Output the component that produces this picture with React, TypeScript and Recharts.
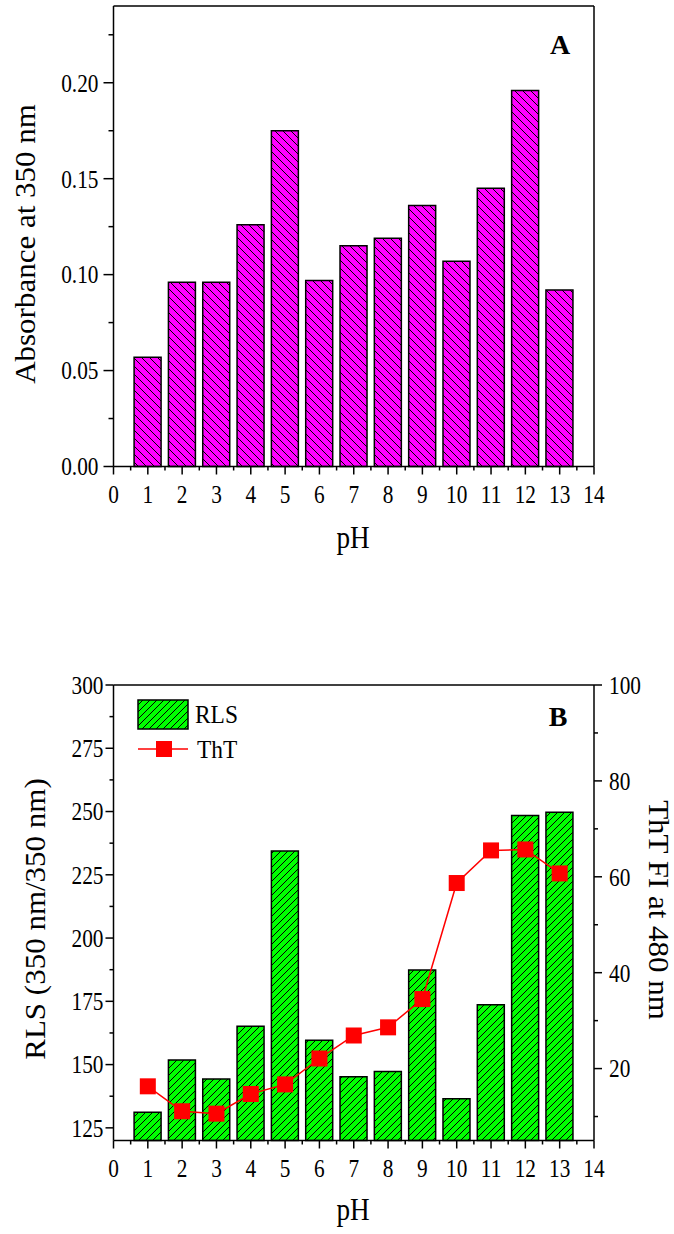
import React from 'react';
import { BarChart, ComposedChart, Bar, Line, XAxis, YAxis, ReferenceLine, Legend } from 'recharts';

// ---------- data ----------
const phValues = [1, 2, 3, 4, 5, 6, 7, 8, 9, 10, 11, 12, 13];
const absorbance = [0.057, 0.096, 0.096, 0.126, 0.175, 0.097, 0.115, 0.119, 0.136, 0.107, 0.145, 0.196, 0.092];
const rlsValues = [131.2, 151.8, 144.3, 165.1, 234.4, 159.6, 145.2, 147.3, 187.4, 136.5, 173.6, 248.4, 249.7];
const thtValues = [16.3, 11.1, 10.6, 14.7, 16.7, 22.1, 26.9, 28.6, 34.5, 58.7, 65.5, 65.7, 60.7];

const xTicks = [0, 1, 2, 3, 4, 5, 6, 7, 8, 9, 10, 11, 12, 13, 14];
const absTicks = [0, 0.025, 0.05, 0.075, 0.1, 0.125, 0.15, 0.175, 0.2, 0.225];
const rlsTicks = [125, 137.5, 150, 162.5, 175, 187.5, 200, 212.5, 225, 237.5, 250, 262.5, 275, 287.5, 300];
const thtTicks = [10, 20, 30, 40, 50, 60, 70, 80, 90, 100];
const seriesNames = ['RLS', 'ThT'];

const dataA = phValues.map((ph, i) => ({ ph, abs: absorbance[i] }));
const dataB = phValues.map((ph, i) => ({ ph, rls: rlsValues[i], tht: thtValues[i] }));

// ---------- layout ----------
const W = 674;
const PLOT_L = 113.5;
const PLOT_R = 594;
const X_STEP = (PLOT_R - PLOT_L) / 14;
const FONT = "Liberation Serif, Times New Roman, Times, serif";
const MAGENTA = '#FF00FF';
const GREEN = '#00FF00';
const RED = '#FF0000';
const TICK_FS = 26;
const TICK_SX = 0.82;

const isMultiple = (v: number, m: number) => Math.abs(v / m - Math.round(v / m)) < 1e-6;

const XTick = (props: any) => {
  const { x, y, payload, index, visibleTicksCount } = props;
  return (
    <g>
      <line x1={x} y1={y} x2={x} y2={y + 8} stroke="#000" strokeWidth={1.5} />
      {index < visibleTicksCount - 1 && (
        <line x1={x + X_STEP / 2} y1={y} x2={x + X_STEP / 2} y2={y + 4} stroke="#000" strokeWidth={1.5} />
      )}
      <text
        transform={`translate(${x},${y + 36}) scale(${TICK_SX},1)`}
        textAnchor="middle"
        fontSize={TICK_FS}
        fontFamily={FONT}
        fill="#000"
      >
        {payload.value}
      </text>
    </g>
  );
};

const makeLeftTick = (majorStep: number, fmt: (v: number) => string, len: number, gap: number) => (props: any) => {
  const { x, y, payload } = props;
  const major = isMultiple(payload.value, majorStep);
  return (
    <g>
      <line x1={x} y1={y} x2={x - (major ? len : len / 2)} y2={y} stroke="#000" strokeWidth={1.5} />
      {major && (
        <text
          transform={`translate(${x - len - gap},${y}) scale(${TICK_SX},1)`}
          dy="0.34em"
          textAnchor="end"
          fontSize={TICK_FS}
          fontFamily={FONT}
          fill="#000"
        >
          {fmt(payload.value)}
        </text>
      )}
    </g>
  );
};

const makeRightTick = (majorStep: number, fmt: (v: number) => string, len: number, gap: number) => (props: any) => {
  const { x, y, payload } = props;
  const major = isMultiple(payload.value, majorStep);
  return (
    <g>
      <line x1={x} y1={y} x2={x + (major ? len : len / 2)} y2={y} stroke="#000" strokeWidth={1.5} />
      {major && (
        <text
          transform={`translate(${x + len + gap},${y}) scale(${TICK_SX},1)`}
          dy="0.34em"
          textAnchor="start"
          fontSize={TICK_FS}
          fontFamily={FONT}
          fill="#000"
        >
          {fmt(payload.value)}
        </text>
      )}
    </g>
  );
};

const absLeftTick = makeLeftTick(0.05, (v) => v.toFixed(2), 10, 5);
const absMirrorTick = (props: any) => {
  const { x, y } = props;
  return <line x1={x} y1={y} x2={x + 3} y2={y} stroke="#000" strokeWidth={1.5} />;
};
const rlsLeftTick = makeLeftTick(25, (v) => String(v), 8, 2);
const thtRightTick = makeRightTick(20, (v) => String(v), 8, 7);

const axisLine = { stroke: '#000', strokeWidth: 1.5 };

const renderSquare = (props: any) => {
  const { cx, cy, index } = props;
  if (cx == null || cy == null) return <g key={`s${index}`} />;
  return <rect key={`s${index}`} x={cx - 8} y={cy - 8} width={16} height={16} fill={RED} />;
};

const LegendContent = () => (
  <svg width={130} height={72} style={{ display: 'block', overflow: 'visible' }}>
    <rect x={1} y={1} width={50} height={29} fill="url(#hatchB)" stroke="#000" strokeWidth={1.5} />
    <text transform="translate(58,24) scale(0.9,1)" fontSize={26} fontFamily={FONT} fill="#000">
      {seriesNames[0]}
    </text>
    <line x1={1} y1={50} x2={51} y2={50} stroke={RED} strokeWidth={1.5} />
    <rect x={19} y={42} width={16} height={16} fill={RED} />
    <text transform="translate(60,58.5) scale(0.9,1)" fontSize={26} fontFamily={FONT} fill="#000">
      {seriesNames[1]}
    </text>
  </svg>
);

export default function App() {
  return (
    <div style={{ position: 'absolute', left: 0, top: 0, width: W, height: 1234, background: '#fff' }}>
      <svg width={0} height={0} style={{ position: 'absolute' }}>
        <defs>
          <pattern id="hatchA" patternUnits="userSpaceOnUse" width={8} height={8}>
            <rect width={8} height={8} fill={MAGENTA} />
            <path d="M-2,-2 L10,10 M-2,6 L2,10 M6,-2 L10,2" stroke="#000" strokeWidth={1} />
          </pattern>
          <pattern id="hatchB" patternUnits="userSpaceOnUse" width={7} height={7}>
            <rect width={7} height={7} fill={GREEN} />
            <path d="M-2,9 L9,-2 M-2,2 L2,-2 M5,9 L9,5" stroke="#000" strokeWidth={1} />
          </pattern>
        </defs>
      </svg>

      {/* Chart A */}
      <div style={{ position: 'absolute', left: 0, top: 0 }}>
        <BarChart
          width={W}
          height={560}
          data={dataA}
          margin={{ top: 6, right: W - PLOT_R - 10, bottom: 560 - 466.5 - 30, left: PLOT_L - 60 }}
          barCategoryGap="10%"
        >
          <XAxis
            dataKey="ph"
            type="number"
            domain={[0, 14]}
            ticks={xTicks}
            interval={0}
            height={30}
            tickSize={0}
            tickMargin={0}
            tickLine={false}
            axisLine={axisLine}
            tick={(p: any) => <XTick {...p} />}
          />
          <YAxis
            domain={[0, 0.24]}
            ticks={absTicks}
            interval={0}
            width={60}
            tickSize={0}
            tickMargin={0}
            tickLine={false}
            axisLine={axisLine}
            tick={absLeftTick}
          />
          <YAxis
            yAxisId="mirror"
            orientation="right"
            domain={[0, 0.24]}
            ticks={absTicks}
            interval={0}
            width={10}
            tickSize={0}
            tickMargin={0}
            tickLine={false}
            axisLine={axisLine}
            tick={absMirrorTick}
          />
          <ReferenceLine y={0.24} stroke="#000" strokeWidth={1.5} />
          <Bar dataKey="abs" fill="url(#hatchA)" stroke="#000" strokeWidth={1.5} isAnimationActive={false} />
        </BarChart>
      </div>

      {/* Chart B */}
      <div style={{ position: 'absolute', left: 0, top: 600 }}>
        <ComposedChart
          width={W}
          height={634}
          data={dataB}
          margin={{ top: 85, right: W - PLOT_R - 60, bottom: 634 - 540.5 - 30, left: PLOT_L - 60 }}
          barCategoryGap="10%"
        >
          <XAxis
            dataKey="ph"
            type="number"
            domain={[0, 14]}
            ticks={xTicks}
            interval={0}
            height={30}
            tickSize={0}
            tickMargin={0}
            tickLine={false}
            axisLine={axisLine}
            tick={(p: any) => <XTick {...p} />}
          />
          <YAxis
            yAxisId="left"
            domain={[120, 300]}
            ticks={rlsTicks}
            interval={0}
            width={60}
            tickSize={0}
            tickMargin={0}
            tickLine={false}
            axisLine={axisLine}
            tick={rlsLeftTick}
          />
          <YAxis
            yAxisId="right"
            orientation="right"
            domain={[5, 100]}
            ticks={thtTicks}
            interval={0}
            width={60}
            tickSize={0}
            tickMargin={0}
            tickLine={false}
            axisLine={axisLine}
            tick={thtRightTick}
          />
          <ReferenceLine yAxisId="left" y={300} stroke="#000" strokeWidth={1.5} />
          <Legend
            layout="vertical"
            align="center"
            verticalAlign="middle"
            content={() => <LegendContent />}
            wrapperStyle={{ left: 137, top: 99, width: 130, height: 72 }}
          />
          <Bar
            yAxisId="left"
            dataKey="rls"
            name={seriesNames[0]}
            fill="url(#hatchB)"
            stroke="#000"
            strokeWidth={1.5}
            isAnimationActive={false}
          />
          <Line
            yAxisId="right"
            dataKey="tht"
            name={seriesNames[1]}
            stroke={RED}
            strokeWidth={1.5}
            dot={renderSquare}
            activeDot={false}
            isAnimationActive={false}
          />
        </ComposedChart>
      </div>

      {/* Titles */}
      <svg
        width={W}
        height={1234}
        style={{ position: 'absolute', left: 0, top: 0, pointerEvents: 'none' }}
        fontFamily={FONT}
        fill="#000"
      >
        <text transform="translate(35,244) rotate(-90) scale(1,0.95)" textAnchor="middle" fontSize={31}>
          Absorbance at 350 nm
        </text>
        <text transform="translate(560,54)" textAnchor="middle" fontSize={28} fontWeight="bold">
          A
        </text>
        <text transform="translate(353,548) scale(0.85,1)" textAnchor="middle" fontSize={32}>
          pH
        </text>
        <text transform="translate(45,919) rotate(-90) scale(1,0.95)" textAnchor="middle" fontSize={31}>
          RLS (350 nm/350 nm)
        </text>
        <text transform="translate(649,910) rotate(90) scale(1,0.95)" textAnchor="middle" fontSize={31}>
          ThT FI at 480 nm
        </text>
        <text transform="translate(558,726)" textAnchor="middle" fontSize={28} fontWeight="bold">
          B
        </text>
        <text transform="translate(353,1220) scale(0.85,1)" textAnchor="middle" fontSize={32}>
          pH
        </text>
      </svg>
    </div>
  );
}
